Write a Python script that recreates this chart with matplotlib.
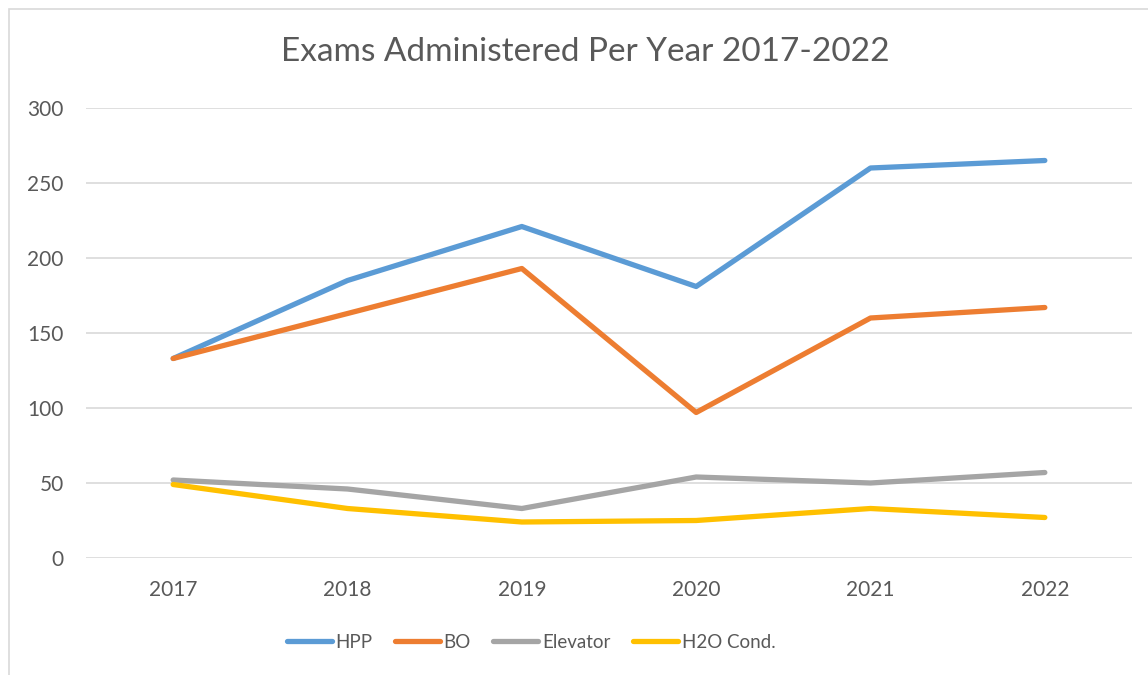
import matplotlib.pyplot as plt
from matplotlib.patches import Rectangle

years = ["2017", "2018", "2019", "2020", "2021", "2022"]
hpp = [133, 185, 221, 181, 260, 265]
bo = [133, 163, 193, 97, 160, 167]
elevator = [52, 46, 33, 54, 50, 57]
h2o = [49, 33, 24, 25, 33, 27]

plt.rcParams['font.family'] = ['Lato', 'DejaVu Sans']
txt = "#595959"

W, H = 1148, 675
fig = plt.figure(figsize=(W/100, H/100), dpi=100)
# chart border (cropped on right and bottom)
fig.patches.append(Rectangle((9/W, -0.05), 1.2, 1 - 9/H + 0.05, transform=fig.transFigure,
                             fill=False, edgecolor="#D9D9D9", linewidth=1.2))

ax = fig.add_axes([86/W, 1 - 558/H, (1132-86)/W, (558-108)/H])
x = range(len(years))
ax.plot(x, hpp, color="#5B9BD5", lw=3.8, label="HPP", solid_capstyle="round")
ax.plot(x, bo, color="#ED7D31", lw=3.8, label="BO", solid_capstyle="round")
ax.plot(x, elevator, color="#A5A5A5", lw=3.8, label="Elevator", solid_capstyle="round")
ax.plot(x, h2o, color="#FFC000", lw=3.8, label="H2O Cond.", solid_capstyle="round")

ax.set_xlim(-0.5, len(years) - 0.5)
ax.set_ylim(0, 300)
ax.set_yticks(range(0, 301, 50))
ax.set_xticks(list(x))
ax.set_xticklabels(years)
ax.grid(axis="y", color="#D9D9D9", lw=1.2)
ax.set_axisbelow(True)
for s in ax.spines.values():
    s.set_visible(False)
ax.tick_params(length=0, labelsize=15, colors=txt)
ax.tick_params(axis="x", pad=16)
ax.tick_params(axis="y", pad=16)

fig.text(585/W, 1 - 52/H, "Exams Administered Per Year 2017-2022", ha="center", va="center",
         fontsize=24, color=txt)

leg = ax.legend(loc="center", bbox_to_anchor=(531/W, 1 - 642/H), bbox_transform=fig.transFigure,
                ncol=4, frameon=False, fontsize=13.5, handlelength=2.4, handletextpad=0.2,
                columnspacing=1.2)
for t in leg.get_texts():
    t.set_color(txt)

plt.savefig("out.png", dpi=100)
